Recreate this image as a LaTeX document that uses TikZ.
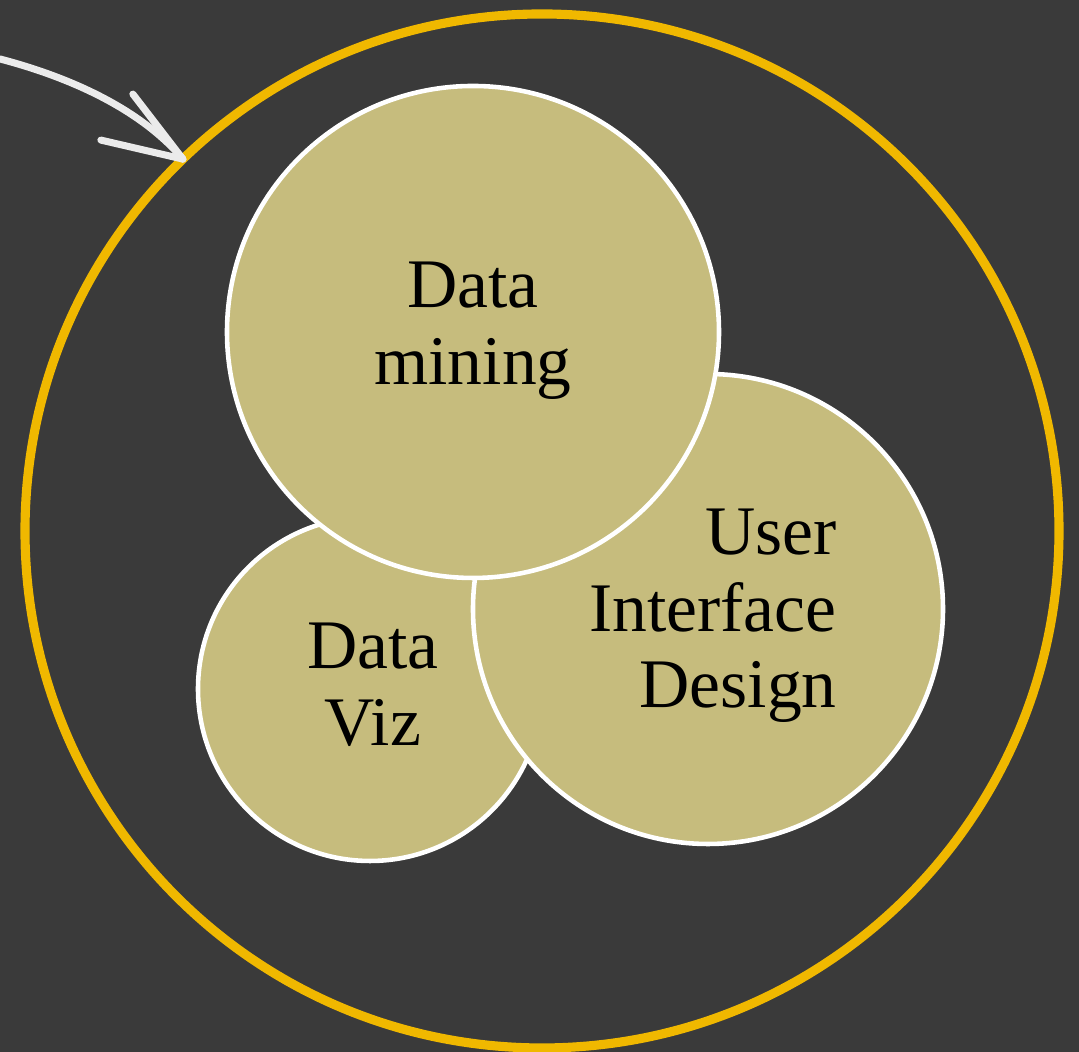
\documentclass[tikz,border=0pt]{standalone}
\usepackage{fontspec}
\setmainfont{Liberation Serif}
\definecolor{board}{RGB}{58,58,58}
\definecolor{ringyellow}{RGB}{240,184,0}
\definecolor{olivefill}{RGB}{198,188,125}
\begin{document}
\begin{tikzpicture}[
	ringstyle/.style={circle,draw=ringyellow,line width=2.6pt,inner sep=0pt,outer sep=0pt,minimum size=10.34cm},
	blob/.style={circle,draw=white,fill=olivefill,line width=1.3pt,inner sep=0pt,outer sep=0pt},
	blobtext/.style={font=\fontsize{19.8}{21.8}\selectfont,text=black},
	chalk/.style={draw=white!92!black,line width=2pt,line cap=round,line join=round}]
		\fill[board] (0,0) rectangle (10.79,10.52);
		\useasboundingbox (0,0) rectangle (10.79,10.52);
		\node[ringstyle] (ring) at (5.42,5.21) {};
		\node[blob,minimum size=3.44cm] (viz) at (3.70,3.63) {};
		\node[blob,minimum size=4.70cm] (uid) at (7.08,4.43) {};
		\node[blob,minimum size=4.92cm] (mining) at (4.73,7.20) {};
		\node[blobtext,align=center] (miningtext) at (4.73,7.21) {Data\\mining};
		\node[blobtext,align=center] (viztext) at (3.73,3.67) {Data\\Viz};
		\node[blobtext,align=right] (uidtext) at (7.13,4.36) {User\\Interface\\Design};
		\coordinate (arrstart) at (0,9.93);
		\draw[chalk] (arrstart) .. controls (0.8,9.72) and (1.45,9.38) .. (ring.134);
		\draw[chalk] (ring.134) -- ++(-0.50,0.65);
		\draw[chalk] (ring.134) -- ++(-0.82,0.19);
	    \end{tikzpicture}
\end{document}
